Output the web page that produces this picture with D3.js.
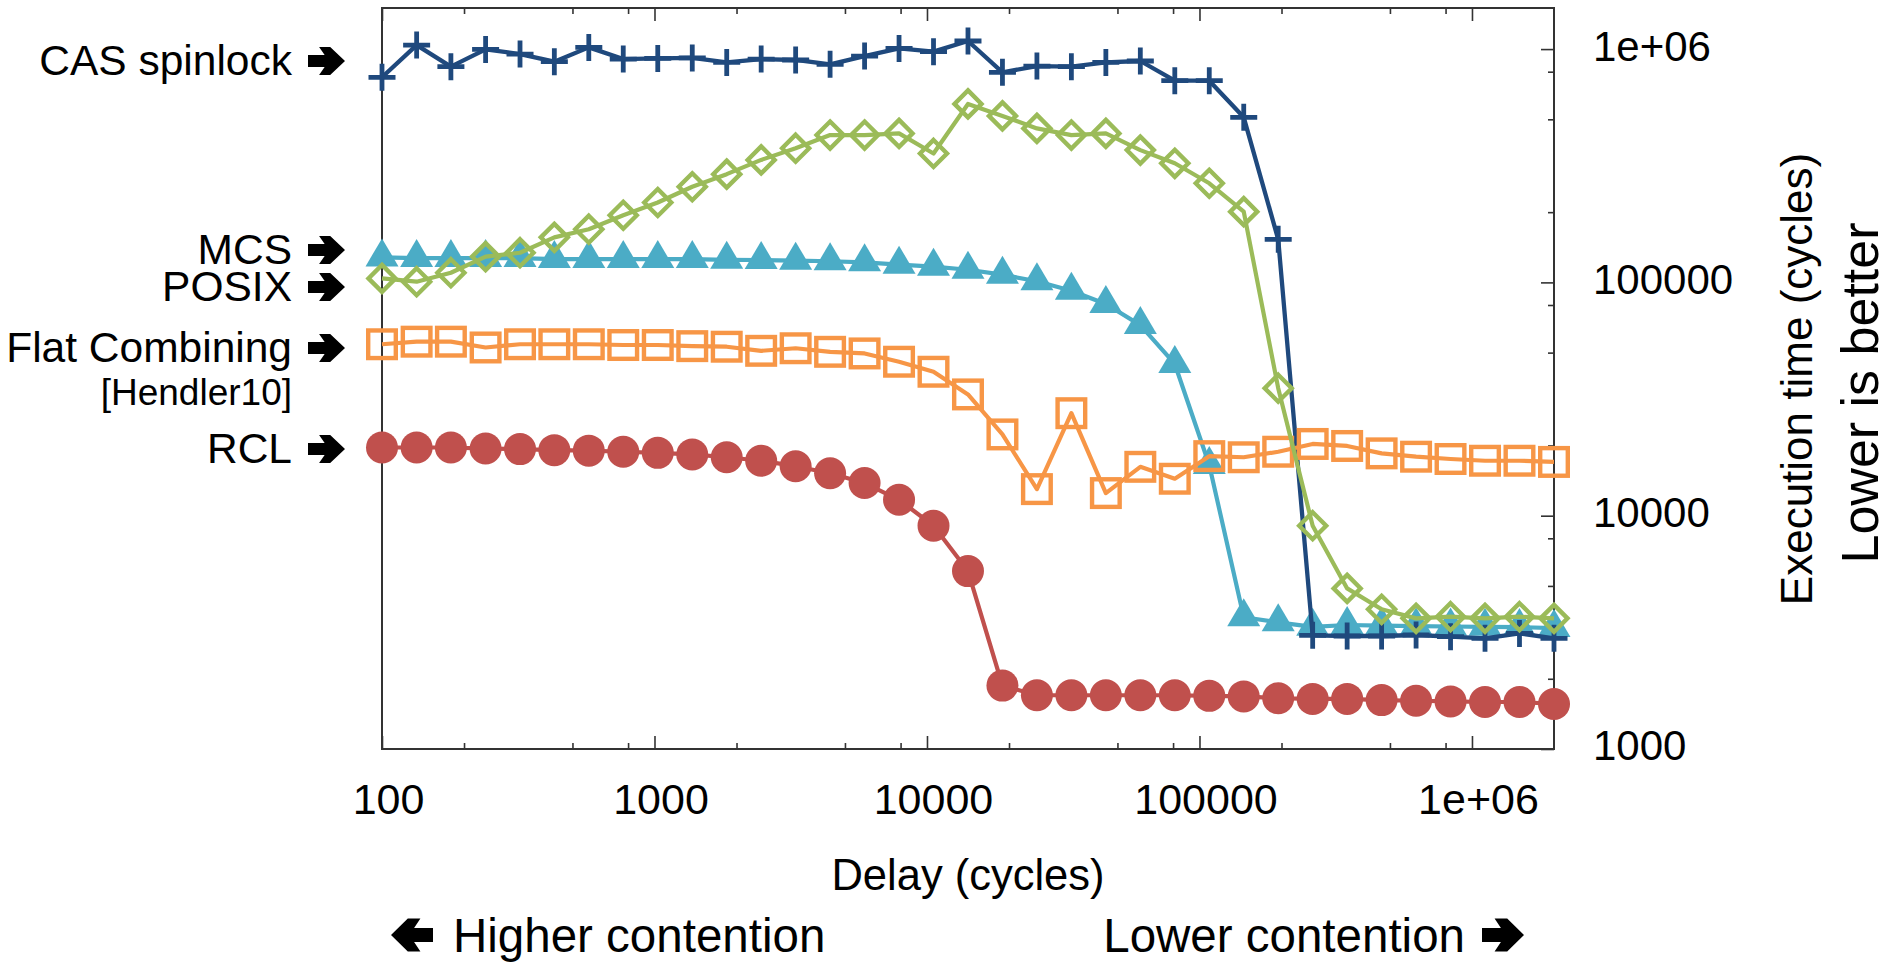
<!DOCTYPE html>
<html>
<head>
<meta charset="utf-8">
<script src="https://cdn.jsdelivr.net/npm/d3@7"></script>
<style>
  body { margin: 0; background: #fff; }
  svg { display: block; }
  text { font-family: "Liberation Sans", Arial, Helvetica, sans-serif; fill: #000; }
</style>
</head>
<body>
<svg id="chart" width="1895" height="962"></svg>
<script>
"use strict";

// delay values on the x axis (cycles)
const delays = [100, 134, 179, 240, 321, 429, 574, 768, 1028, 1376, 1841, 2463, 3296, 4410,
    5902, 7897, 10567, 14140, 18921, 25318, 33878, 45333, 60662, 81173, 108620, 145347,
    194491, 260252, 348250, 466002, 623567, 834408, 1116540, 1494070, 2000000];

// execution time per lock (cycles)
const casSpinlock = [757000, 1040000, 841000, 997000, 952000, 883000, 1017000, 906000, 912000,
    916000, 877000, 906000, 898000, 860000, 933000, 1007000, 975000, 1083000, 795000, 846000,
    841000, 877000, 889000, 732000, 732000, 510000, 153000, 3070, 3050, 3050, 3080, 3030, 2980,
    3130, 2980];
const mcs = [128000, 127100, 127100, 127100, 127100, 125900, 125900, 125900, 125900, 125900,
    125000, 124700, 123900, 123200, 121900, 119100, 116800, 113300, 107900, 101100, 92100, 80800,
    65600, 44700, 16500, 3670, 3490, 3340, 3400, 3380, 3360, 3350, 3340, 3330, 3300];
const posix = [104000, 100700, 110000, 129000, 134000, 156000, 169000, 194000, 220000, 257000,
    291000, 335000, 376000, 428000, 428000, 435000, 357000, 582000, 517000, 457000, 428000,
    435000, 369000, 324000, 266000, 201000, 35200, 9060, 4880, 3970, 3630, 3690, 3630, 3690, 3630];
const flatCombining = [54300, 55700, 55700, 52600, 54300, 54300, 54300, 53900, 53900, 53300,
    53000, 50900, 52200, 50400, 49600, 45700, 41400, 33100, 22300, 13000, 27500, 12500, 16200,
    14400, 18000, 17800, 18800, 20300, 19900, 18500, 17900, 17500, 17200, 17200, 17000];
const rcl = [19600, 19600, 19600, 19400, 19300, 19100, 19000, 18800, 18600, 18300, 17800,
    17200, 16300, 15200, 13800, 11700, 9060, 5790, 1870, 1700, 1700, 1700, 1700, 1700, 1690,
    1680, 1650, 1640, 1640, 1620, 1610, 1600, 1590, 1590, 1560];

// tick values
const xMajorTicks = [100, 1000, 10000, 100000, 1000000];
const xMinorTicks = [200, 500, 800, 2000, 5000, 8000, 20000, 50000, 80000,
    200000, 500000, 800000];
const yMajorTicks = [1000, 10000, 100000, 1000000];
const yMinorTicks = [2000, 5000, 8000, 20000, 50000, 80000, 200000, 500000, 800000];

// left-hand labels
const labelNames = ["CAS spinlock", "MCS", "POSIX", "Flat Combining", "RCL"];
const labelBaselines = [75, 264, 301, 362, 463];

const colors = {
    cas: "#1F497D",
    mcs: "#4BACC6",
    posix: "#9BBB59",
    fc: "#F79646",
    rcl: "#C0504D"
};

const svg = d3.select("#chart");
const plotLeft = 382, plotRight = 1554, plotTop = 8, plotBottom = 749;

const x = d3.scaleLog().domain([100, 2e6]).range([plotLeft, plotRight]);
const y = d3.scaleLog().domain([1000, 1.5e6]).range([plotBottom, plotTop]);

// ---- axes ----
const fmtX = d => d === 1000000 ? "1e+06" : String(d);

// bottom major ticks with labels
const xAxisG = svg.append("g")
    .attr("transform", `translate(0,${plotBottom})`)
    .call(d3.axisBottom(x).tickValues(xMajorTicks).tickSize(-13).tickPadding(34).tickFormat(fmtX));
xAxisG.selectAll("text").attr("font-size", 43).attr("dx", 6);

svg.append("g")
    .attr("transform", `translate(0,${plotBottom})`)
    .call(d3.axisBottom(x).tickValues(xMinorTicks).tickSize(-6).tickFormat(""));

// top ticks, mirrored
svg.append("g")
    .attr("transform", `translate(0,${plotTop})`)
    .call(d3.axisTop(x).tickValues(xMajorTicks).tickSize(-13).tickFormat(""));
svg.append("g")
    .attr("transform", `translate(0,${plotTop})`)
    .call(d3.axisTop(x).tickValues(xMinorTicks).tickSize(-6).tickFormat(""));

// right y axis
const yAxisG = svg.append("g")
    .attr("transform", `translate(${plotRight},0)`)
    .call(d3.axisRight(y).tickValues(yMajorTicks).tickSize(-13).tickPadding(39).tickFormat(fmtX));
yAxisG.selectAll("text").attr("font-size", 42).attr("dy", "0.26em");

svg.append("g")
    .attr("transform", `translate(${plotRight},0)`)
    .call(d3.axisRight(y).tickValues(yMinorTicks).tickSize(-6).tickFormat(""));

svg.selectAll(".domain").remove();
svg.selectAll(".tick line").attr("stroke", "#333").attr("stroke-width", 1.6);
svg.selectAll(".tick text").attr("font-family", "'Liberation Sans', Arial, sans-serif").attr("fill", "#000");

// frame
svg.append("rect")
    .attr("x", plotLeft).attr("y", plotTop)
    .attr("width", plotRight - plotLeft).attr("height", plotBottom - plotTop)
    .attr("fill", "none").attr("stroke", "#333").attr("stroke-width", 2);

// ---- series ----
const plot = svg.append("g");

function series(values) {
    return delays.map((d, i) => ({ x: d, y: values[i] }));
}

const line = d3.line().x(d => x(d.x)).y(d => y(d.y));

function drawLine(values, color, width) {
    plot.append("path")
        .datum(series(values))
        .attr("d", line)
        .attr("fill", "none")
        .attr("stroke", color)
        .attr("stroke-width", width)
        .attr("stroke-linejoin", "round");
}

// MCS - filled triangles
drawLine(mcs, colors.mcs, 4.2);
plot.append("g").selectAll("path")
    .data(series(mcs))
    .join("path")
    .attr("d", d => {
        const cx = x(d.x), cy = y(d.y);
        return `M${cx},${cy - 19}L${cx + 16.5},${cy + 9}L${cx - 16.5},${cy + 9}Z`;
    })
    .attr("fill", colors.mcs);

// CAS spinlock - plus signs
drawLine(casSpinlock, colors.cas, 4.3);
plot.append("g").selectAll("path")
    .data(series(casSpinlock))
    .join("path")
    .attr("d", d => {
        const cx = x(d.x), cy = y(d.y);
        return `M${cx - 13.5},${cy}H${cx + 13.5}M${cx},${cy - 13.5}V${cy + 13.5}`;
    })
    .attr("stroke", colors.cas)
    .attr("stroke-width", 4.8)
    .attr("fill", "none");

// Flat combining - open squares
drawLine(flatCombining, colors.fc, 4.2);
plot.append("g").selectAll("rect")
    .data(series(flatCombining))
    .join("rect")
    .attr("x", d => x(d.x) - 13.8)
    .attr("y", d => y(d.y) - 13.8)
    .attr("width", 27.6)
    .attr("height", 27.6)
    .attr("fill", "none")
    .attr("stroke", colors.fc)
    .attr("stroke-width", 4.4);

// POSIX - open diamonds
drawLine(posix, colors.posix, 4.2);
plot.append("g").selectAll("path")
    .data(series(posix))
    .join("path")
    .attr("d", d => {
        const cx = x(d.x), cy = y(d.y), r = 13.5;
        return `M${cx},${cy - r}L${cx + r},${cy}L${cx},${cy + r}L${cx - r},${cy}Z`;
    })
    .attr("fill", "none")
    .attr("stroke", colors.posix)
    .attr("stroke-width", 4.4);

// RCL - filled circles
drawLine(rcl, colors.rcl, 4.2);
plot.append("g").selectAll("circle")
    .data(series(rcl))
    .join("circle")
    .attr("cx", d => x(d.x))
    .attr("cy", d => y(d.y))
    .attr("r", 16)
    .attr("fill", colors.rcl);

// ---- arrows ----
function arrowPath(x0, cy, w, h, dir) {
    const t = h * 0.21, sx = w * 0.45, hx = w * 0.3, d = w * 0.3;
    const pts = [[0, -t], [sx, -t], [hx, -h / 2], [hx + d, -h / 2], [w, 0],
        [hx + d, h / 2], [hx, h / 2], [sx, t], [0, t]];
    return "M" + pts.map(p => {
        const px = dir > 0 ? x0 + p[0] : x0 + w - p[0];
        return `${px},${cy + p[1]}`;
    }).join("L") + "Z";
}

// ---- left labels ----
labelNames.forEach((name, i) => {
    svg.append("text")
        .attr("x", 292)
        .attr("y", labelBaselines[i])
        .attr("text-anchor", "end")
        .attr("font-size", 42.5)
        .text(name);
    svg.append("path")
        .attr("d", arrowPath(308, labelBaselines[i] - 14, 37, 28, 1))
        .attr("fill", "#000");
});
svg.append("text")
    .attr("x", 292).attr("y", 405)
    .attr("text-anchor", "end")
    .attr("font-size", 37)
    .text("[Hendler10]");

// ---- axis titles ----
svg.append("text")
    .attr("x", (plotLeft + plotRight) / 2).attr("y", 890)
    .attr("text-anchor", "middle")
    .attr("font-size", 43.5)
    .text("Delay (cycles)");

svg.append("path").attr("d", arrowPath(391, 935, 42, 33, -1)).attr("fill", "#000");
svg.append("text")
    .attr("x", 453).attr("y", 952)
    .attr("font-size", 47.5)
    .text("Higher contention");

svg.append("text")
    .attr("x", 1465).attr("y", 952)
    .attr("text-anchor", "end")
    .attr("font-size", 47.5)
    .text("Lower contention");
svg.append("path").attr("d", arrowPath(1482, 935, 42, 33, 1)).attr("fill", "#000");

svg.append("text")
    .attr("transform", "translate(1812,379) rotate(-90)")
    .attr("text-anchor", "middle")
    .attr("font-size", 44)
    .text("Execution time (cycles)");

svg.append("text")
    .attr("transform", "translate(1878,393) rotate(-90)")
    .attr("text-anchor", "middle")
    .attr("font-size", 52)
    .text("Lower is better");
</script>
</body>
</html>
